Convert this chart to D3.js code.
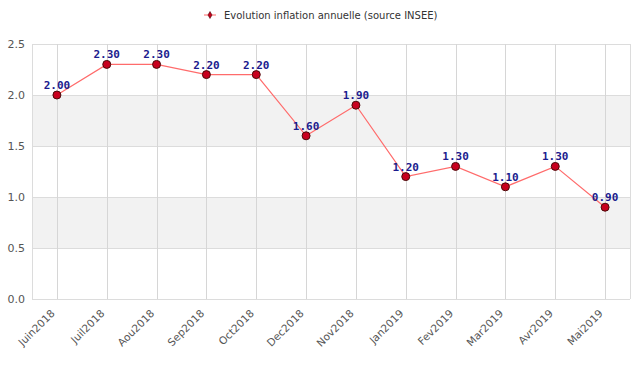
<!DOCTYPE html>
<html>
<head>
<meta charset="utf-8">
<script src="https://cdn.jsdelivr.net/npm/d3@7"></script>
<style>
  body { margin: 0; background: #fff; }
  svg { display: block; font-family: "DejaVu Sans", sans-serif; }
</style>
</head>
<body>
<div id="chart"></div>
<script>
// Evolution inflation annuelle (source INSEE)
const months = ['Juin2018', 'Juil2018', 'Aou2018', 'Sep2018', 'Oct2018', 'Dec2018',
  'Nov2018', 'Jan2019', 'Fev2019', 'Mar2019', 'Avr2019', 'Mai2019'];
const inflation = [2.0, 2.3, 2.3, 2.2, 2.2, 1.6, 1.9, 1.2, 1.3, 1.1, 1.3, 0.9];
const yTicks = [0, 0.5, 1.0, 1.5, 2.0, 2.5];
const seriesName = 'Evolution inflation annuelle (source INSEE)';

const width = 640, height = 367;
const margin = { top: 44, right: 10, bottom: 68, left: 32 };

const svg = d3.select('#chart').append('svg')
  .attr('width', width)
  .attr('height', height);

const x = d3.scalePoint()
  .domain(months)
  .range([margin.left, width - margin.right])
  .padding(0.5);

const y = d3.scaleLinear()
  .domain([0, 2.5])
  .range([height - margin.bottom, margin.top]);

// alternating bands
const bands = [[0.5, 1.0], [1.5, 2.0]];
svg.selectAll('.band')
  .data(bands)
  .join('rect')
  .attr('x', margin.left)
  .attr('width', width - margin.right - margin.left)
  .attr('y', d => y(d[1]))
  .attr('height', d => y(d[0]) - y(d[1]))
  .attr('fill', '#f2f2f2');

// horizontal grid
svg.append('g')
  .selectAll('line')
  .data(yTicks)
  .join('line')
  .attr('x1', margin.left)
  .attr('x2', width - margin.right)
  .attr('y1', d => y(d) + 0.5)
  .attr('y2', d => y(d) + 0.5)
  .attr('stroke', '#dcdcdc');

// vertical grid
svg.append('g')
  .selectAll('line')
  .data(months)
  .join('line')
  .attr('x1', d => Math.round(x(d)) + 0.5)
  .attr('x2', d => Math.round(x(d)) + 0.5)
  .attr('y1', margin.top)
  .attr('y2', height - margin.bottom)
  .attr('stroke', '#d6d6d6');

// frame sides
[margin.left, width - margin.right].forEach(px => {
  svg.append('line')
    .attr('x1', px + 0.5).attr('x2', px + 0.5)
    .attr('y1', margin.top).attr('y2', height - margin.bottom)
    .attr('stroke', '#dcdcdc');
});

// y axis labels
const yAxis = svg.append('g')
  .attr('transform', `translate(${margin.left},0)`)
  .call(d3.axisLeft(y).tickValues(yTicks).tickFormat(d3.format('.1f')).tickSize(0).tickPadding(7));
yAxis.select('.domain').remove();
yAxis.selectAll('text')
  .attr('fill', '#555')
  .style('font-size', '11px')
  .style('font-family', '"DejaVu Sans", sans-serif');

// x axis labels
const xAxis = svg.append('g')
  .attr('transform', `translate(0,${height - margin.bottom})`)
  .call(d3.axisBottom(x).tickSize(0).tickPadding(0));
xAxis.select('.domain').remove();
xAxis.selectAll('text')
  .attr('fill', '#555')
  .style('font-size', '10.5px')
  .style('font-family', '"DejaVu Sans", sans-serif')
  .attr('text-anchor', 'end')
  .attr('dy', '0')
  .attr('transform', 'translate(-2,15) rotate(-45)');

// line
const line = d3.line()
  .x((d, i) => x(months[i]))
  .y(d => y(d));

svg.append('path')
  .datum(inflation)
  .attr('d', line)
  .attr('fill', 'none')
  .attr('stroke', '#ff6b6b')
  .attr('stroke-width', 1.2);

// markers
svg.selectAll('.pt')
  .data(inflation)
  .join('circle')
  .attr('cx', (d, i) => x(months[i]))
  .attr('cy', d => y(d))
  .attr('r', 4)
  .attr('fill', '#c8001e')
  .attr('stroke', '#4a0a0a')
  .attr('stroke-width', 1);

// value labels
svg.selectAll('.lbl')
  .data(inflation)
  .join('text')
  .attr('x', (d, i) => x(months[i]))
  .attr('y', d => y(d) - 6)
  .attr('text-anchor', 'middle')
  .attr('fill', '#1c1c8e')
  .style('font-family', '"DejaVu Sans Mono", monospace')
  .style('font-weight', 'bold')
  .style('font-size', '11px')
  .text(d => d3.format('.2f')(d));

// legend
const legend = svg.append('g').attr('transform', 'translate(210,15)');
legend.append('line')
  .attr('x1', -6).attr('x2', 6)
  .attr('stroke', '#ff6b6b');
legend.append('path')
  .attr('d', d3.symbol(d3.symbolDiamond, 14)())
  .attr('fill', '#c8001e')
  .attr('stroke', '#4a0a0a')
  .attr('stroke-width', 0.6);
legend.append('text')
  .attr('x', 14)
  .attr('y', 4)
  .attr('fill', '#333')
  .style('font-size', '10px')
  .text(seriesName);
</script>
</body>
</html>
